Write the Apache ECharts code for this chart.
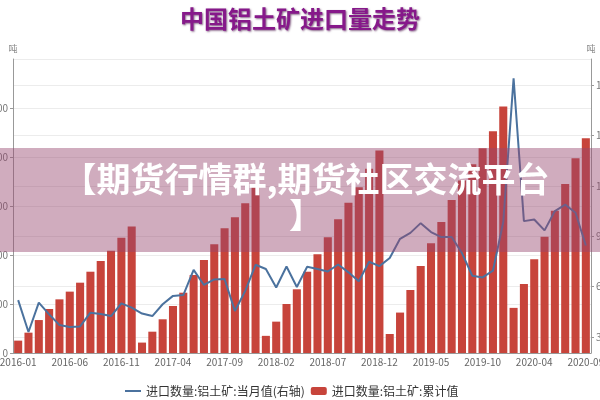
<!DOCTYPE html>
<html><head><meta charset="utf-8">
<script src="https://cdn.jsdelivr.net/npm/echarts@6/dist/echarts.min.js"></script>
<style>html,body{margin:0;padding:0;background:#fff}#c{width:600px;height:400px}</style>
</head><body><div id="c"></div>
<script>
const categories = [
 '2016-01','2016-02','2016-03','2016-04','2016-05','2016-06','2016-07','2016-08','2016-09','2016-10','2016-11','2016-12',
 '2017-01','2017-02','2017-03','2017-04','2017-05','2017-06','2017-07','2017-08','2017-09','2017-10','2017-11','2017-12',
 '2018-01','2018-02','2018-03','2018-04','2018-05','2018-06','2018-07','2018-08','2018-09','2018-10','2018-11','2018-12',
 '2019-01','2019-02','2019-03','2019-04','2019-05','2019-06','2019-07','2019-08','2019-09','2019-10','2019-11','2019-12',
 '2020-02','2020-03','2020-04','2020-05','2020-06','2020-07','2020-08','2020-09'];
const monthlyValues = [
 520,330,505,435,372,360,363,445,437,425,500,475,
 440,425,495,545,550,700,610,643,645,455,575,730,
 705,595,720,598,718,705,690,732,685,632,748,722,
 770,885,920,978,925,895,895,800,665,655,695,985,
 1840,990,1000,935,1050,1088,1040,845];
const cumulativeValues = [
 505,830,1345,1795,2190,2505,2870,3318,3755,4178,4705,5160,
 425,870,1376,1918,2461,3184,3796,4437,5090,5539,6110,6857,
 700,1280,2000,2600,3318,4029,4722,5457,6135,6770,7520,8262,
 776,1650,2571,3551,4477,5347,6244,7042,7706,8361,9055,10066,
 1842,2816,3824,4747,5808,6898,7946,8763];
const titleText = '中国铝土矿进口量走势';
const seriesNames = ['进口数量:铝土矿:当月值(右轴)','进口数量:铝土矿:累计值'];
const unitText = '吨';
const bannerText = '【期货行情群,期货社区交流平台\n】';

const chart = echarts.init(document.getElementById('c'), null, {renderer:'canvas'});
const font = '"Noto Sans CJK SC","Noto Sans",sans-serif';
chart.setOption({
  animation:false,
  textStyle:{fontFamily:font},
  title:{text:titleText,left:'center',top:2,
    textStyle:{fontSize:24,fontWeight:'bold',color:'#86198a',fontFamily:font,
      textShadowColor:'rgba(60,0,60,0.6)',textShadowBlur:2,textShadowOffsetX:1,textShadowOffsetY:1}},
  legend:{left:120,top:380,itemGap:6,itemWidth:16,itemHeight:8,
    textStyle:{fontSize:12,color:'#333',fontFamily:font},
    data:[{name:seriesNames[0],icon:'path://M0,0 L16,0 L16,2 L0,2 Z'},{name:seriesNames[1],icon:'roundRect'}]},
  grid:{left:13,right:9,top:59,bottom:47,containLabel:false,outerBoundsMode:'none'},
  xAxis:{type:'category',data:categories,boundaryGap:true,
    axisLine:{lineStyle:{color:'#999'}},
    axisTick:{interval:4,alignWithLabel:true,length:3,lineStyle:{color:'#999'}},
    axisLabel:{interval:4,fontSize:10,color:'#666',margin:4,fontFamily:font,hideOverlap:false}},
  yAxis:[
    {type:'value',min:0,max:12000,interval:2000,name:unitText,nameLocation:'end',nameGap:6,
      nameTextStyle:{fontSize:9,color:'#888',align:'center'},
      axisLine:{show:true,lineStyle:{color:'#999'}},axisTick:{show:true,length:3,lineStyle:{color:'#999'}},
      axisLabel:{fontSize:10,color:'#777',margin:5,showMaxLabel:false},
      splitLine:{lineStyle:{color:'#ececec'}}},
    {type:'value',min:205,max:1955,splitNumber:5,name:unitText,nameLocation:'end',nameGap:6,
      nameTextStyle:{fontSize:9,color:'#888',align:'center'},
      axisLine:{show:true,lineStyle:{color:'#999'}},axisTick:{show:true,length:3,lineStyle:{color:'#999'}},
      axisLabel:{fontSize:10,color:'#777',margin:5,showMinLabel:false,showMaxLabel:false},
      splitLine:{lineStyle:{color:'#ececec'}}}
  ],
  series:[
    {name:seriesNames[1],type:'bar',yAxisIndex:0,data:cumulativeValues,barCategoryGap:'22%',
      itemStyle:{color:'#c7443b'},z:2},
    {name:seriesNames[0],type:'line',yAxisIndex:1,data:monthlyValues,symbol:'none',smooth:false,
      lineStyle:{color:'#4b729e',width:2},itemStyle:{color:'#4b729e'},z:3}
  ],
  graphic:[
    {type:'rect',z:100,shape:{x:0,y:148,width:600,height:104},style:{fill:'rgba(150,72,110,0.45)'}},
    {type:'text',z:101,x:306,y:161,style:{text:bannerText,fill:'#fff',font:'bold 34px "Noto Sans CJK SC", sans-serif',
      textAlign:'center',textVerticalAlign:'top',lineHeight:36}}
  ]
});
</script></body></html>
